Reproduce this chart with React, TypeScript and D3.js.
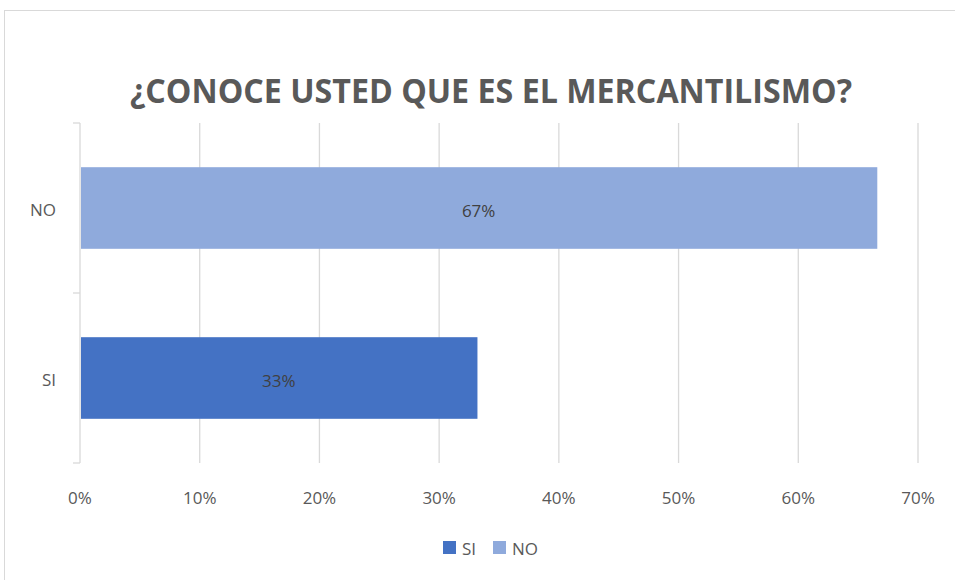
import React, { useEffect, useRef } from "react";
import * as d3 from "d3";

const categories = ["NO", "SI"];
const values = [0.666, 0.332];
const colors = ["#8FAADC", "#4472C4"];
const ticks = [0, 0.1, 0.2, 0.3, 0.4, 0.5, 0.6, 0.7];
const legendItems = ["SI", "NO"];
const legendColors = ["#4472C4", "#8FAADC"];

const App: React.FC = () => {
  const svgRef = useRef<SVGSVGElement | null>(null);

  useEffect(() => {
    if (!svgRef.current) return;
    const svg = d3.select(svgRef.current);
    svg.selectAll("*").remove();

    const font = "Open Sans, Liberation Sans, sans-serif";
    const margin = { top: 123, left: 80, right: 37, bottom: 117 };
    const width = 955;
    const height = 580;

    // chart frame
    svg
      .append("rect")
      .attr("x", 4.5)
      .attr("y", 10.5)
      .attr("width", 960)
      .attr("height", 600)
      .attr("fill", "white")
      .attr("stroke", "#d9d9d9");

    const x = d3
      .scaleLinear()
      .domain([0, 0.7])
      .range([margin.left, width - margin.right]);

    const y = d3
      .scaleBand()
      .domain(categories)
      .range([margin.top, height - margin.bottom])
      .paddingInner(0.52)
      .paddingOuter(0.26);

    // gridlines
    svg
      .append("g")
      .selectAll("line")
      .data(ticks.slice(1))
      .enter()
      .append("line")
      .attr("x1", (d) => x(d))
      .attr("x2", (d) => x(d))
      .attr("y1", margin.top)
      .attr("y2", height - margin.bottom)
      .attr("stroke", "#d9d9d9")
      .attr("stroke-width", 1.3);

    // category axis with tick marks between categories
    const axisG = svg.append("g").attr("stroke", "#d9d9d9").attr("stroke-width", 1.3);
    axisG
      .append("line")
      .attr("x1", margin.left)
      .attr("x2", margin.left)
      .attr("y1", margin.top)
      .attr("y2", height - margin.bottom);
    const bounds = [margin.top, (margin.top + height - margin.bottom) / 2, height - margin.bottom];
    axisG
      .selectAll("line.tick")
      .data(bounds)
      .enter()
      .append("line")
      .attr("class", "tick")
      .attr("x1", margin.left - 7)
      .attr("x2", margin.left)
      .attr("y1", (d) => d)
      .attr("y2", (d) => d);

    // bars
    svg
      .append("g")
      .selectAll("rect")
      .data(categories)
      .enter()
      .append("rect")
      .attr("x", x(0) + 1)
      .attr("y", (d) => y(d)!)
      .attr("width", (d, i) => x(values[i]) - x(0) - 1)
      .attr("height", y.bandwidth())
      .attr("fill", (d, i) => colors[i]);

    // bar labels
    svg
      .append("g")
      .selectAll("text")
      .data(categories)
      .enter()
      .append("text")
      .attr("x", (d, i) => (x(0) + x(values[i])) / 2)
      .attr("y", (d) => y(d)! + y.bandwidth() / 2 + 3)
      .attr("dy", "0.35em")
      .attr("text-anchor", "middle")
      .attr("font-family", font)
      .attr("font-size", 17)
      .attr("fill", "#404040")
      .text((d, i) => d3.format(".0%")(values[i]));

    // category labels
    svg
      .append("g")
      .selectAll("text")
      .data(categories)
      .enter()
      .append("text")
      .attr("x", 56)
      .attr("y", (d) => y(d)! + y.bandwidth() / 2 + 2)
      .attr("dy", "0.35em")
      .attr("text-anchor", "end")
      .attr("font-family", font)
      .attr("font-size", 17)
      .attr("fill", "#595959")
      .text((d) => d);

    // x tick labels
    svg
      .append("g")
      .selectAll("text")
      .data(ticks)
      .enter()
      .append("text")
      .attr("x", (d) => x(d))
      .attr("y", 498)
      .attr("dy", "0.35em")
      .attr("text-anchor", "middle")
      .attr("font-family", font)
      .attr("font-size", 17)
      .attr("fill", "#595959")
      .text((d) => d3.format(".0%")(d));

    // title
    svg
      .append("text")
      .attr("x", 491)
      .attr("y", 103)
      .attr("text-anchor", "middle")
      .attr("font-family", font)
      .attr("font-weight", "bold")
      .attr("font-size", 34)
      .attr("fill", "#595959")
      .attr("textLength", 722)
      .attr("lengthAdjust", "spacingAndGlyphs")
      .text("¿CONOCE USTED QUE ES EL MERCANTILISMO?");

    // legend
    const legend = svg.append("g");
    const legendX = [443, 493];
    legendItems.forEach((name, i) => {
      legend
        .append("rect")
        .attr("x", legendX[i])
        .attr("y", 541)
        .attr("width", 13)
        .attr("height", 13)
        .attr("fill", legendColors[i]);
      legend
        .append("text")
        .attr("x", legendX[i] + 19)
        .attr("y", 549)
        .attr("dy", "0.35em")
        .attr("font-family", font)
        .attr("font-size", 17)
        .attr("fill", "#595959")
        .text(name);
    });
  }, []);

  return (
    <svg
      ref={svgRef}
      width={955}
      height={580}
      style={{ position: "absolute", left: 0, top: 0 }}
    ></svg>
  );
};

export default App;
